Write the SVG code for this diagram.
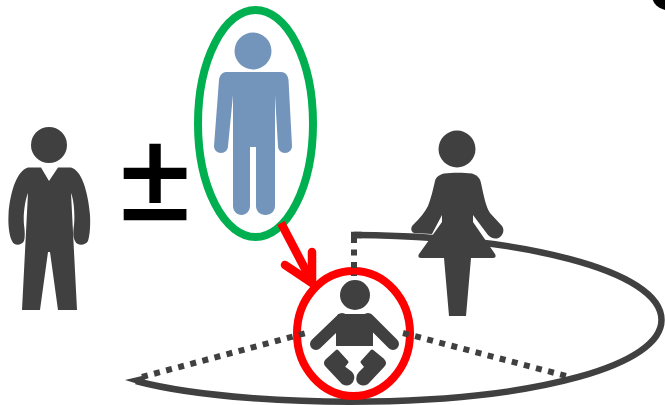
<svg xmlns="http://www.w3.org/2000/svg" width="665" height="405" viewBox="0 0 665 405">
<style>
.fig{fill:#404040}
.blue{fill:#7395BC}
.ring{fill:none;stroke-width:8}
.dots{fill:none;stroke:#404040;stroke-width:6;stroke-dasharray:6 6.500}
.orbit{fill:none;stroke:#404040;stroke-width:6.500}
.red{fill:none;stroke:#FF0000;stroke-width:8.500}
.limb{fill:none;stroke:#404040;stroke-width:12;stroke-linecap:round}
.leg{fill:#404040;stroke:#404040;stroke-width:3;stroke-linejoin:round}
</style>
<rect width="665" height="405" fill="#fff"/>
<circle cx="667" cy="-5" r="15" fill="#000"/>
<g id="connectors">
<path class="orbit" d="M354 235C520 236 661.500 270 661.500 320C661.500 365 540 399 370 401.500C300 402.500 200 398 136 381"/>
<path class="fig" d="M125 380L146 375L143 385.500Z"/>
<path class="orbit" d="M351 235H362"/>
</g>
<g id="woman">
<circle class="fig" cx="457" cy="149" r="18.500"/>
<path class="fig" d="M444 173.500C452 172.500 464 172.500 472 173.500C477 175 480 178 481 183C484 197 486 207 490 213L502 226C505 230 503 237 497 238.500C493 239 490 237 488 235L473 215V222L495 254Q497 258 493 258H471L466 316H449L444 258H421Q417 258 419 254L442 222V215L432 234L414 233C410 231 411 227 413 225C420 218 425 212 428 206C431 198 433 190 435 181C436 177 439 175 444 173.500Z"/>
</g>
<g id="man">
<circle class="fig" cx="49" cy="145" r="18"/>
<path class="fig" d="M28 167.500H41L49 181L58 167.500H71C81 170 88 190 90 215C90.500 225 90 235 88 241C85 246 77 246 75 241C73 237 73 232 74 225C75 215 74 200 71 193L77 310H58L50 252H48L40 310H22L28 193C25 200 23 215 24 225C25 232 25 237 24 241C21 246 14 246 12 241C9 235 8 225 8.500 215C10 190 18 170 28 167.500Z"/>
</g>
<g id="plusminus">
<text x="155" y="218.500" text-anchor="middle" font-family="'Liberation Sans',Arial,sans-serif" font-size="124" fill="#000" stroke="#000" stroke-width="2.500">±</text>
</g>
<g id="father-ellipse">
<ellipse class="ring" cx="255.500" cy="123.500" rx="57.500" ry="113.500" stroke="#00B050"/>
<circle class="blue" cx="253" cy="51" r="18.500"/>
<path class="blue" d="M226 72H281C286 72 288 76 288.500 80L292 146C292 150 289 153 285 153C281 153 278 150 278 146L275 95V206C275 211 271 215 265.500 215C260 215 256 211 256 206V147H250V206C250 211 246 215 241.500 215C237 215 233 211 233 206V95L228 146C228 150 225 153 221 153C217 153 214 150 214 146L219 80C219.500 76 222 72 226 72Z"/>
</g>
<g id="arrow">
<path class="red" d="M281 223L313 284"/>
<path class="red" stroke-linecap="round" d="M285 265L312 283L312 252"/>
</g>
<g id="child">
<ellipse class="ring" cx="353.500" cy="333.500" rx="56.500" ry="62.500" stroke="#FF0000"/>
<circle class="fig" cx="355" cy="295" r="15"/>
<path class="fig" d="M338 314H371L373 320V346H336V320Z"/>
<path class="limb" d="M342 319L316 344M368 319L393 344"/>
<path class="leg" d="M337 351L347 362L343 367L351 373C354 376 353 381 350 383C347 385 345 384 343 383L327 366C325 364 325 362 327 360Z"/>
<path class="leg" d="M372 351L362 362L366 367L360 373C357 376 357 381 360 383C363 385 365 384 367 383L383 366C385 364 385 362 383 360Z"/>
</g>
<g id="dotted-lines">
<path class="dots" d="M354 237V276"/>
<path class="dots" d="M142 377L306 333"/>
<path class="dots" d="M403 333L570 377"/>
</g>
</svg>
